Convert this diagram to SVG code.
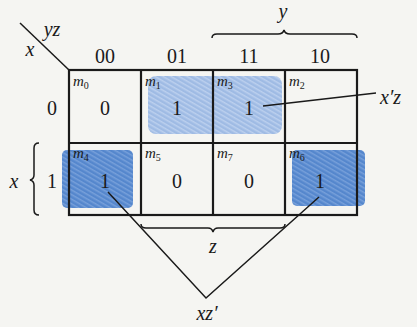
<svg xmlns="http://www.w3.org/2000/svg" width="417" height="327" viewBox="0 0 417 327">
<style>
.t{font-family:"Liberation Serif","DejaVu Serif",serif;fill:#1a1a1a}
.h{font-size:20px;text-anchor:middle}
.i{font-style:italic}
.m{font-size:15px;font-style:italic}
.s{font-size:10px;font-style:normal}
.ln{stroke:#1a1a1a;stroke-width:1.5;fill:none}
.g{stroke:#1a1a1a;stroke-width:2.2;fill:none}
</style>
<defs>
<pattern id="hatch" width="4" height="4" patternUnits="userSpaceOnUse" patternTransform="rotate(30)">
<rect width="4" height="4" fill="#5587cd"/>
<rect width="4" height="1.5" fill="#77a0da"/>
</pattern>
<pattern id="hatchL" width="4" height="4" patternUnits="userSpaceOnUse" patternTransform="rotate(30)">
<rect width="4" height="4" fill="#9fbbe4"/>
<rect width="4" height="1.5" fill="#bcd0ee"/>
</pattern>
</defs>
<rect width="417" height="327" fill="#f5f5f2"/>
<g id="shading">
<rect x="148" y="76" width="134" height="58" rx="8" fill="url(#hatchL)"/>
<rect x="62" y="150" width="71" height="58" rx="5" fill="url(#hatch)"/>
<rect x="292" y="150" width="73" height="56" rx="5" fill="url(#hatch)"/>
</g>
<g id="grid">
<rect x="69" y="70" width="288" height="145" class="g"/>
<line x1="141" y1="70" x2="141" y2="215" class="g"/>
<line x1="213" y1="70" x2="213" y2="215" class="g"/>
<line x1="285" y1="70" x2="285" y2="215" class="g"/>
<line x1="69" y1="143" x2="357" y2="143" class="g"/>
<line x1="20" y1="23" x2="69" y2="70" class="ln"/>
</g>
<g id="headers" class="t">
<text x="52" y="36" class="i" font-size="20" text-anchor="middle">yz</text>
<text x="30" y="56" class="i" font-size="20" text-anchor="middle">x</text>
<text x="105" y="63" class="h">00</text>
<text x="177" y="63" class="h">01</text>
<text x="249" y="63" class="h">11</text>
<text x="320" y="63" class="h">10</text>
<text x="52" y="115" class="h">0</text>
<text x="52" y="188" class="h">1</text>
<text x="14" y="188" class="h i">x</text>
<text x="283" y="18" class="h i">y</text>
<text x="213" y="253" class="h i">z</text>
</g>
<g id="braces">
<path d="M212,38 Q212,34 217,34 L278,34 Q283,34 284,30 Q285,34 290,34 L352,34 Q357,34 357,38" class="ln"/>
<path d="M141,224 Q141,228 146,228 L208,228 Q212,228 213,232 Q214,228 218,228 L280,228 Q285,228 285,224" class="ln"/>
<path d="M39,143 Q34,143 34,148 L34,175 Q34,179 30,180 Q34,181 34,185 L34,210 Q34,215 39,215" class="ln"/>
</g>
<g id="cells" class="t">
<g id="m0"><text x="73" y="86" class="m">m<tspan class="s" dy="3">0</tspan></text><text x="105" y="115" class="h">0</text></g>
<g id="m1"><text x="145" y="86" class="m">m<tspan class="s" dy="3">1</tspan></text><text x="177" y="115" class="h">1</text></g>
<g id="m3"><text x="217" y="86" class="m">m<tspan class="s" dy="3">3</tspan></text><text x="249" y="115" class="h">1</text></g>
<g id="m2"><text x="289" y="86" class="m">m<tspan class="s" dy="3">2</tspan></text></g>
<g id="m4"><text x="73" y="158" class="m">m<tspan class="s" dy="3">4</tspan></text><text x="105" y="188" class="h">1</text></g>
<g id="m5"><text x="145" y="158" class="m">m<tspan class="s" dy="3">5</tspan></text><text x="177" y="188" class="h">0</text></g>
<g id="m7"><text x="217" y="158" class="m">m<tspan class="s" dy="3">7</tspan></text><text x="249" y="188" class="h">0</text></g>
<g id="m6"><text x="289" y="158" class="m">m<tspan class="s" dy="3">6</tspan></text><text x="320" y="188" class="h">1</text></g>
</g>
<g id="connectors">
<line x1="263" y1="106" x2="376" y2="93" class="ln"/>
<polyline points="108,192 206,298 319,197" class="ln"/>
</g>
<g id="labels" class="t">
<text x="380" y="104" class="i" font-size="20">x′z</text>
<text x="207" y="320" class="h i">xz′</text>
</g>
</svg>
